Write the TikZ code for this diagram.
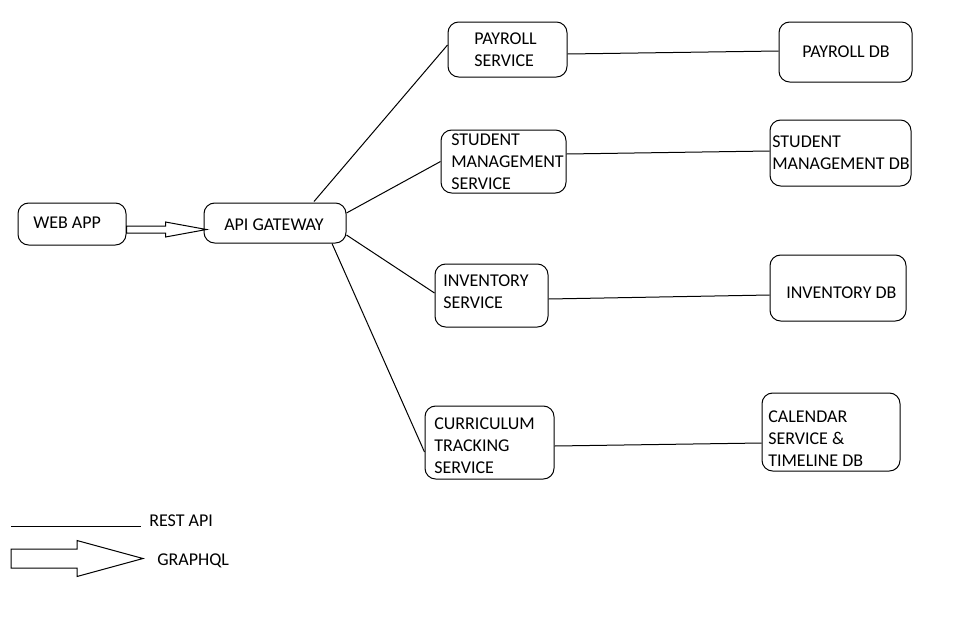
\documentclass[tikz,border=0pt]{standalone}
\usepackage{fontspec}
\setmainfont{Carlito}
\usetikzlibrary{calc}
\tikzset{
  box/.style={draw=black, line width=0.75pt, rounded corners=8pt, inner sep=0pt},
  txt/.style={anchor=west, inner sep=0pt, align=left, font=\fontsize{13.5}{16.5}\selectfont},
  conn/.style={draw=black, line width=0.75pt},
  hollow/.style={draw=black, line width=0.75pt, fill=white, line join=miter},
}
\begin{document}
\begin{tikzpicture}[x=0.75pt, y=-0.75pt]
\useasboundingbox (0,0) rectangle (980,632);
\fill[white] (0,0) rectangle (980,632);

% boxes
\node[box, minimum width=108*0.75pt, minimum height=42*0.75pt] (web) at (72,224) {};
\node[box, minimum width=142*0.75pt, minimum height=40*0.75pt] (api) at (275,223) {};
\node[box, minimum width=119*0.75pt, minimum height=55*0.75pt] (ps) at (507.5,49.5) {};
\node[box, minimum width=133*0.75pt, minimum height=60*0.75pt] (pdb) at (845.5,52) {};
\node[box, minimum width=125*0.75pt, minimum height=63*0.75pt] (sms) at (503.5,161.5) {};
\node[box, minimum width=141*0.75pt, minimum height=66*0.75pt] (smdb) at (840.5,153) {};
\node[box, minimum width=113*0.75pt, minimum height=63*0.75pt] (inv) at (491.5,295.5) {};
\node[box, minimum width=136*0.75pt, minimum height=66*0.75pt] (invdb) at (838,288) {};
\node[box, minimum width=129*0.75pt, minimum height=73*0.75pt] (cur) at (489.5,442.5) {};
\node[box, minimum width=138*0.75pt, minimum height=78*0.75pt] (cal) at (831,432) {};

% texts
\node[txt] (webt) at (33,223) {WEB APP};
\node[txt] (apit) at (224,225) {API GATEWAY};
\node[txt] (pst) at (474,49.5) {PAYROLL\\SERVICE};
\node[txt] (pdbt) at (802,52) {PAYROLL DB};
\node[txt] (smst) at (451,162) {STUDENT\\MANAGEMENT\\SERVICE};
\node[txt] (smdbt) at (772,152.5) {STUDENT\\MANAGEMENT DB};
\node[txt] (invt) at (443,292) {INVENTORY\\SERVICE};
\node[txt] (invdbt) at (786,293) {INVENTORY DB};
\node[txt] (curt) at (434,446) {CURRICULUM\\TRACKING\\SERVICE};
\node[txt] (calt) at (768,439) {CALENDAR\\SERVICE \&\\TIMELINE DB};

% connectors (REST)
\draw[conn] ($(api.north)+(39,-1)$) -- ($(ps.west)+(0,-4.5)$);
\draw[conn] ($(api.east)+(0,-10)$) -- ($(sms.west)+(0,0)$);
\draw[conn] ($(api.east)+(0,12)$) -- ($(inv.west)+(0,-2.5)$);
\draw[conn] ($(api.south)+(57,0)$) -- ($(cur.west)+(0,9.5)$);
\draw[conn] ($(ps.east)+(0,4.5)$) -- ($(pdb.west)+(0,-1)$);
\draw[conn] ($(sms.east)+(0,-7.5)$) -- ($(smdb.west)+(0,-2)$);
\draw[conn] ($(inv.east)+(0,3.5)$) -- ($(invdb.west)+(0,7)$);
\draw[conn] ($(cur.east)+(0,3.5)$) -- ($(cal.west)+(0,11)$);

% GraphQL arrow web -> api
\coordinate (wa) at ($(web.east)+(0,5.5)$);
\coordinate (tip) at ($(api.west)+(3,6.5)$);
\coordinate (hb) at ($(tip)+(-41,0)$);
\draw[hollow] ($(wa)+(0,-3.5)$) -- ($(hb)+(0,-3.5)$) -- ($(hb)+(0,-7.5)$) -- (tip)
  -- ($(hb)+(0,7.5)$) -- ($(hb)+(0,3.5)$) -- ($(wa)+(0,3.5)$) -- cycle;

% legend
\coordinate (r1) at (11,526);
\coordinate (r2) at (141,526);
\draw[conn] (r1) -- (r2);
\node[txt] (restt) at (149,521) {REST API};
\coordinate (g1) at (11,558.5);
\coordinate (gtip) at (143,558.5);
\coordinate (gh) at (77,558.5);
\draw[hollow] ($(g1)+(0,-9.5)$) -- ($(gh)+(0,-9.5)$) -- ($(gh)+(0,-18)$) -- (gtip)
  -- ($(gh)+(0,18)$) -- ($(gh)+(0,9.5)$) -- ($(g1)+(0,9.5)$) -- cycle;
\node[txt] (gqlt) at (157,561) {GRAPHQL};
\end{tikzpicture}
\end{document}
